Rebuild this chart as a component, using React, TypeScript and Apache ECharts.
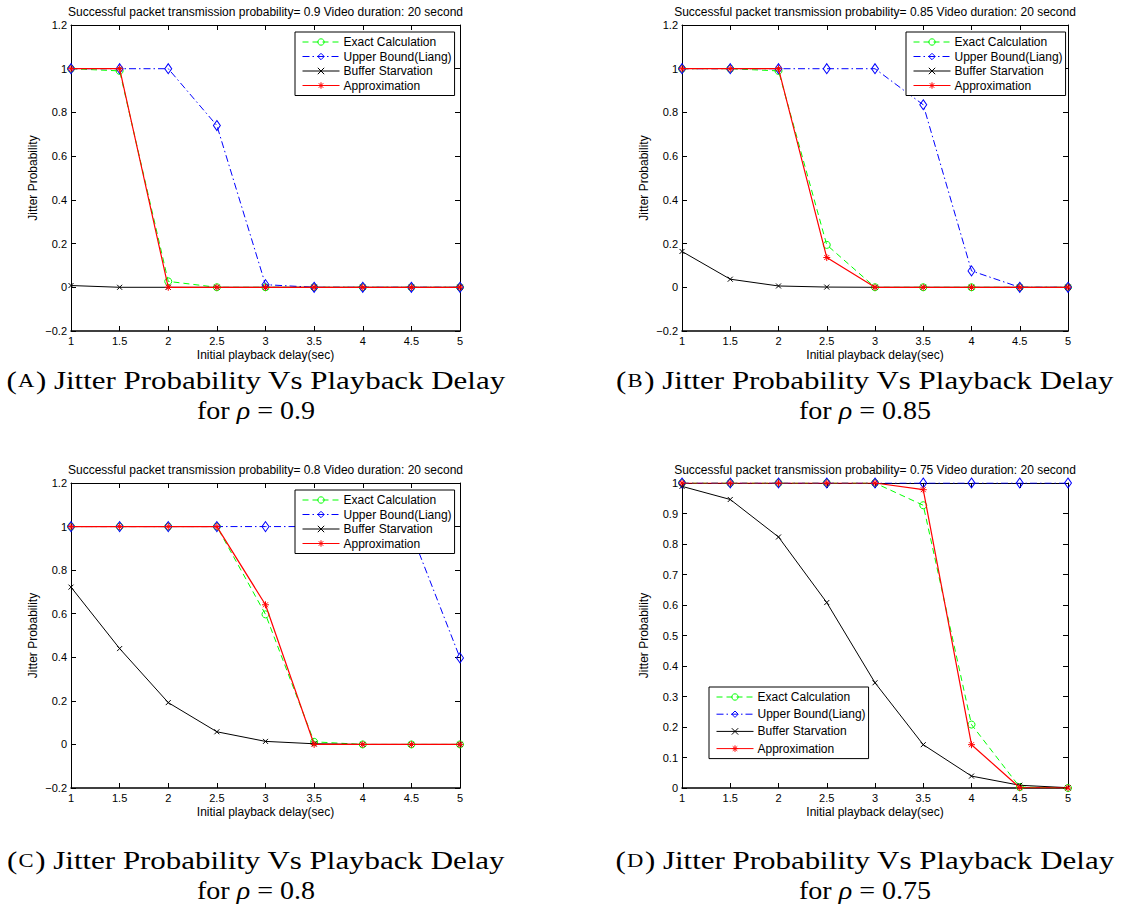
import React, { useEffect, useRef } from "react";
import * as echarts from "echarts";

// Initial playback delay (sec)
const delays = [1, 1.5, 2, 2.5, 3, 3.5, 4, 4.5, 5];
const seriesNames = ["Exact Calculation", "Upper Bound(Liang)", "Buffer Starvation", "Approximation"];

// rho = 0.9
const exact090 = [1, 0.99, 0.027, 0, 0, 0, 0, 0, 0];
const upper090 = [1, 1, 1, 0.74, 0.012, 0, 0, 0, 0];
const buffer090 = [0.008, 0, 0, 0, 0, 0, 0, 0, 0];
const approx090 = [1, 1, 0, 0, 0, 0, 0, 0, 0];

// rho = 0.85
const exact085 = [1, 1, 0.99, 0.194, 0, 0, 0, 0, 0];
const upper085 = [1, 1, 1, 1, 1, 0.835, 0.075, 0, 0];
const buffer085 = [0.164, 0.037, 0.006, 0.001, 0, 0, 0, 0, 0];
const approx085 = [1, 1, 1, 0.136, 0, 0, 0, 0, 0];

// rho = 0.8
const exact080 = [1, 1, 1, 1, 0.597, 0.012, 0, 0, 0];
const upper080 = [1, 1, 1, 1, 1, 1, 1, 0.97, 0.397];
const buffer080 = [0.722, 0.44, 0.192, 0.058, 0.014, 0.003, 0, 0, 0];
const approx080 = [1, 1, 1, 1, 0.641, 0, 0, 0, 0];

// rho = 0.75
const exact075 = [1, 1, 1, 1, 1, 0.927, 0.208, 0.003, 0];
const upper075 = [1, 1, 1, 1, 1, 1, 1, 1, 1];
const buffer075 = [0.989, 0.946, 0.823, 0.608, 0.345, 0.142, 0.039, 0.009, 0.001];
const approx075 = [1, 1, 1, 1, 1, 0.978, 0.142, 0.001, 0];

const rhoValues = ["0.9", "0.85", "0.8", "0.75"];
const captionLetters = ["A", "B", "C", "D"];
const yRanges = [
  { min: -0.2, max: 1.2, interval: 0.2 },
  { min: -0.2, max: 1.2, interval: 0.2 },
  { min: -0.2, max: 1.2, interval: 0.2 },
  { min: 0, max: 1, interval: 0.1 },
];
const panelData = [
  [exact090, upper090, buffer090, approx090],
  [exact085, upper085, buffer085, approx085],
  [exact080, upper080, buffer080, approx080],
  [exact075, upper075, buffer075, approx075],
];

const SANS = "'Liberation Sans', Arial, sans-serif";
const SERIF = "'Liberation Serif', 'Times New Roman', serif";

// plot boxes and legend placement for the 2x2 layout
const boxes = [
  { left: 71, top: 25, width: 389, height: 306 },
  { left: 682, top: 25, width: 386, height: 306 },
  { left: 71, top: 483, width: 389, height: 305 },
  { left: 682, top: 483, width: 386, height: 305 },
];
const legendPos = [
  { left: 295, top: 32, gap: 0.5 },
  { left: 906, top: 32, gap: 0.5 },
  { left: 295, top: 490, gap: 0.5 },
  { left: 709, top: 687, gap: 3.2 },
];
const captionPos = [
  { x: 256, y: 380 },
  { x: 865, y: 380 },
  { x: 256, y: 860 },
  { x: 865, y: 860 },
];

const CROSS = "path://M0,0L10,10M10,0L0,10";
const STAR = "path://M5,0L5,10M0,5L10,5M1.5,1.5L8.5,8.5M8.5,1.5L1.5,8.5";

const styles = [
  { color: "#00ff00", type: [6, 4] as any, symbol: "circle", size: 7, width: 1 },
  { color: "#0000ff", type: [7, 3, 1.5, 3] as any, symbol: "diamond", size: [7, 10] as any, width: 1 },
  { color: "#000000", type: "solid" as any, symbol: CROSS, size: 5, width: 1 },
  { color: "#ff0000", type: "solid" as any, symbol: STAR, size: 7, width: 1.2 },
];

const fmt = (v: number) => {
  const r = parseFloat(v.toFixed(2));
  return r < 0 ? "\u2212" + String(Math.abs(r)) : String(r);
};

function buildOption() {
  const grid: any[] = [];
  const xAxis: any[] = [];
  const yAxis: any[] = [];
  const series: any[] = [];
  const legend: any[] = [];
  const graphic: any[] = [];

  boxes.forEach((b, g) => {
    grid.push({ left: b.left, top: b.top, width: b.width, height: b.height, containLabel: false });
    const axisLine = { show: true, onZero: false, lineStyle: { color: "#000", width: 1 } };
    const tick = { show: true, inside: true, length: 5, lineStyle: { color: "#000", width: 1 } };
    xAxis.push({
      type: "value", gridIndex: g, min: 1, max: 5, interval: 0.5, position: "bottom",
      axisLine: { show: true, onZero: false, lineStyle: { color: "#000", width: 1.5 } },
      axisTick: tick, splitLine: { show: false },
      axisLabel: { color: "#000", fontSize: 11, fontFamily: SANS, margin: 4, formatter: fmt },
      name: "Initial playback delay(sec)", nameLocation: "middle", nameGap: 18,
      nameTextStyle: { color: "#000", fontSize: 12, fontFamily: SANS },
    });
    xAxis.push({
      type: "value", gridIndex: g, min: 1, max: 5, interval: 0.5, position: "top",
      axisLine, axisTick: tick, splitLine: { show: false }, axisLabel: { show: false },
    });
    const yr = yRanges[g];
    yAxis.push({
      type: "value", gridIndex: g, min: yr.min, max: yr.max, interval: yr.interval, position: "left",
      axisLine, axisTick: tick, splitLine: { show: false },
      axisLabel: { color: "#000", fontSize: 11, fontFamily: SANS, margin: 4, formatter: fmt },
      name: "Jitter Probability", nameLocation: "middle", nameGap: 32, nameRotate: 90,
      nameTextStyle: { color: "#000", fontSize: 12, fontFamily: SANS },
    });
    yAxis.push({
      type: "value", gridIndex: g, min: yr.min, max: yr.max, interval: yr.interval, position: "right",
      axisLine, axisTick: tick, splitLine: { show: false }, axisLabel: { show: false },
    });

    panelData[g].forEach((vals, s) => {
      const st = styles[s];
      series.push({
        type: "line", name: seriesNames[s], xAxisIndex: 2 * g, yAxisIndex: 2 * g,
        data: delays.map((d, i) => [d, vals[i]]),
        symbol: st.symbol, symbolSize: st.size, symbolKeepAspect: true,
        lineStyle: { color: st.color, type: st.type, width: st.width },
        itemStyle: { color: "rgba(255,255,255,0)", borderColor: st.color, borderWidth: 1 },
        emphasis: { disabled: true }, silent: true, z: 2 + s,
      });
    });

    const lp = legendPos[g];
    legend.push({
      data: seriesNames, orient: "vertical", left: lp.left, top: lp.top,
      itemWidth: 37, itemHeight: 8, itemGap: lp.gap,
      padding: [3, 3, 3, 7], backgroundColor: "#fff", borderColor: "#000", borderWidth: 1, borderRadius: 0,
      lineStyle: { width: 1 }, itemStyle: { borderWidth: 1 },
      textStyle: { color: "#000", fontSize: 12, fontFamily: SANS, lineHeight: 14, padding: [0, 0, 0, -1] },
      selectedMode: false, z: 10,
    });

    graphic.push({
      type: "text", x: b.left + b.width / 2, y: b.top - 13, silent: true,
      style: {
        text: `Successful packet transmission probability= ${rhoValues[g]} Video duration: 20 second`,
        fill: "#000", font: `12px ${SANS}`, align: "center", verticalAlign: "middle",
      },
    });

    const cp = captionPos[g];
    graphic.push({
      type: "text", x: cp.x, y: cp.y, scaleX: 1.19, silent: true,
      style: {
        text: `({sc|${captionLetters[g]}}) Jitter Probability Vs Playback Delay`,
        fill: "#000", font: `26px ${SERIF}`, align: "center", verticalAlign: "middle",
        rich: { sc: { fontSize: 19, fontFamily: SERIF, fill: "#000", verticalAlign: "bottom", padding: [0, 1, 3, 1] } },
      },
    });
    graphic.push({
      type: "text", x: cp.x, y: cp.y + 30, scaleX: 1.08, silent: true,
      style: {
        text: `for {i|\u03C1} = ${rhoValues[g]}`,
        fill: "#000", font: `26px ${SERIF}`, align: "center", verticalAlign: "middle",
        rich: { i: { fontSize: 26, fontFamily: SERIF, fontStyle: "italic", fill: "#000" } },
      },
    });
  });

  return {
    animation: false,
    backgroundColor: "#ffffff",
    grid, xAxis, yAxis, series, legend, graphic,
  };
}

export default function App() {
  const ref = useRef<HTMLDivElement>(null);
  useEffect(() => {
    if (!ref.current) return;
    const chart = echarts.init(ref.current, undefined, { renderer: "svg" });
    chart.setOption(buildOption());
    return () => chart.dispose();
  }, []);
  return (
    <div
      ref={ref}
      style={{ position: "absolute", left: 0, top: 0, width: 1122, height: 910, background: "#fff" }}
    />
  );
}
